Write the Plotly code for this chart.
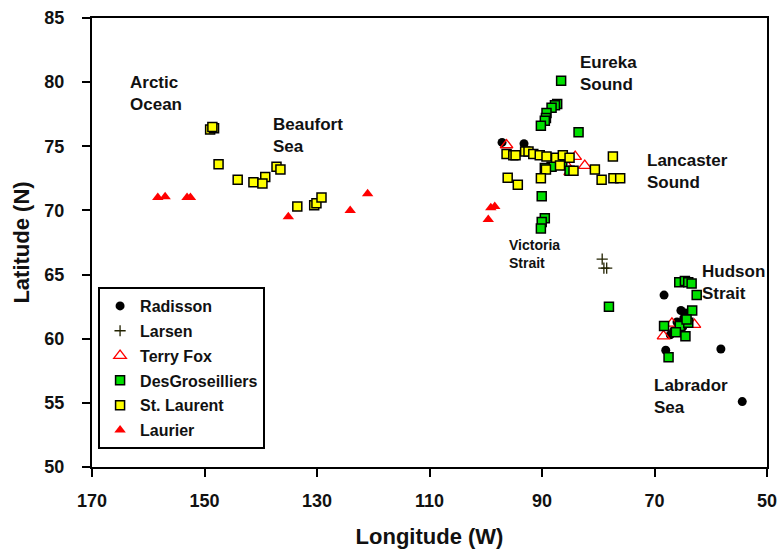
import plotly.graph_objects as go

# ---- data (longitude W, latitude N) ----
radisson_lon = [97.1, 93.2, 68.3, 65.3, 64.5, 66.0, 65.0, 66.6, 67.2, 64.8, 68.0, 58.2, 54.4]
radisson_lat = [75.3, 75.2, 63.4, 62.2, 62.0, 61.3, 60.9, 60.6, 60.3, 61.6, 59.1, 59.2, 55.1]

larsen_lon = [79.3, 79.0, 78.5]
larsen_lat = [66.2, 65.5, 65.5]

terryfox_lon = [96.3, 84.1, 82.4, 85.0, 86.8, 85.4, 68.4, 62.9, 66.9]
terryfox_lat = [75.1, 74.2, 73.5, 73.0, 73.6, 73.4, 60.2, 61.1, 61.2]

desg_lon = [86.6, 87.3, 87.7, 88.3, 89.2, 89.3, 89.5, 90.2, 83.5, 90.05, 89.5, 90.05, 90.2,
            88.3, 86.4, 85.1, 89.5, 78.1,
            65.6, 64.6, 64.0, 63.4, 62.5, 63.3, 68.3, 65.5, 64.0, 66.2, 64.5, 67.5, 64.3]
desg_lat = [80.1, 78.3, 78.2, 78.0, 77.6, 77.2, 77.0, 76.6, 76.1, 71.1, 69.4, 69.1, 68.6,
            73.4, 73.6, 73.1, 73.3, 62.5,
            64.4, 64.5, 64.4, 64.3, 63.4, 62.2, 61.0, 61.0, 61.25, 60.5, 60.2, 58.55, 61.5]

stl_lon = [149.0, 148.3, 148.6, 147.5, 144.1, 141.3, 139.2, 139.7, 137.2, 136.5,
           133.5, 130.5, 130.1, 129.2,
           96.3, 95.1, 94.7, 93.0, 92.4, 91.55, 90.4, 89.2, 87.5, 86.3, 85.1,
           89.3, 84.4, 80.6, 77.4, 79.4, 77.3, 76.1, 96.1, 94.3, 90.2, 86.8]
stl_lat = [76.3, 76.4, 76.5, 73.6, 72.4, 72.2, 72.6, 72.1, 73.4, 73.2,
           70.3, 70.4, 70.55, 71.0,
           74.4, 74.3, 74.3, 74.6, 74.6, 74.4, 74.3, 74.2, 74.1, 74.3, 74.1,
           73.2, 73.1, 73.2, 74.2, 72.4, 72.5, 72.5, 72.55, 72.0, 72.5, 73.5]

laurier_lon = [158.3, 157.0, 153.1, 152.5, 135.1, 124.1, 121.0, 99.1, 98.4, 99.55]
laurier_lat = [71.0, 71.07, 71.0, 71.0, 69.5, 70.0, 71.3, 70.2, 70.3, 69.3]

x_ticks = [170, 150, 130, 110, 90, 70, 50]
y_ticks = [50, 55, 60, 65, 70, 75, 80, 85]

region_labels = ["Arctic<br>Ocean", "Beaufort<br>Sea", "Eureka<br>Sound", "Lancaster<br>Sound",
                 "Victoria<br>Strait", "Hudson<br>Strait", "Labrador<br>Sea"]
label_lon = [163.6, 138.2, 83.6, 71.7, 96.2, 61.9, 70.4]
label_lat = [79.15, 75.84, 80.7, 73.07, 66.6, 64.4, 55.5]
label_size = [17, 17, 17, 17, 14, 17, 17]

FONT = "Liberation Sans"
TXT = "#111111"

fig = go.Figure()

fig.add_trace(go.Scatter(x=radisson_lon, y=radisson_lat, mode="markers", name="Radisson",
                         legendgroup="a",
                         marker=dict(symbol="circle", size=9, color="black")))
fig.add_trace(go.Scatter(x=larsen_lon, y=larsen_lat, mode="markers", name="Larsen",
                         legendgroup="b",
                         marker=dict(symbol="cross-thin", size=8, color="black",
                                     line=dict(color="#222200", width=1.3))))
fig.add_trace(go.Scatter(x=terryfox_lon, y=terryfox_lat, mode="markers", name="Terry Fox",
                         legendgroup="c",
                         marker=dict(symbol="triangle-up-open", size=11, color="red",
                                     line=dict(color="red", width=1.3))))
fig.add_trace(go.Scatter(x=desg_lon, y=desg_lat, mode="markers", name="DesGroseilliers",
                         legendgroup="d",
                         marker=dict(symbol="square", size=9, color="#00e000",
                                     line=dict(color="black", width=1.5))))
fig.add_trace(go.Scatter(x=stl_lon, y=stl_lat, mode="markers", name="St. Laurent",
                         legendgroup="e",
                         marker=dict(symbol="square", size=9, color="#ffff00",
                                     line=dict(color="black", width=1.5))))
fig.add_trace(go.Scatter(x=laurier_lon, y=laurier_lat, mode="markers", name="Laurier",
                         legendgroup="f",
                         marker=dict(symbol="triangle-up", size=10, color="red")))

for txt, lx, ly, fs in zip(region_labels, label_lon, label_lat, label_size):
    fig.add_annotation(x=lx, y=ly, text=txt, showarrow=False, xanchor="left", yanchor="middle",
                       align="left", font=dict(family=FONT, size=fs, color=TXT, weight="bold"))

axis_common = dict(showgrid=False, zeroline=False, showline=True, linecolor="black", linewidth=2,
                   mirror=True, ticks="outside", ticklen=8, tickwidth=2, tickcolor="black",
                   automargin=False,
                   tickfont=dict(family=FONT, size=18, color=TXT, weight="bold"))

fig.update_xaxes(range=[170, 50], tickvals=x_ticks, ticktext=[str(v) for v in x_ticks],
                 ticklabelstandoff=8,
                 title=dict(text="Longitude (W)", font=dict(family=FONT, size=22, color=TXT, weight="bold"),
                            standoff=19),
                 **axis_common)
fig.update_yaxes(range=[50, 85], tickvals=y_ticks, ticktext=[str(v) for v in y_ticks],
                 ticklabelstandoff=14,
                 title=dict(text="Latitude (N)", font=dict(family=FONT, size=22, color=TXT, weight="bold"),
                            standoff=9),
                 **axis_common)

fig.update_layout(
    width=780, height=552,
    margin=dict(l=92, r=13, t=18, b=85),
    paper_bgcolor="white", plot_bgcolor="white",
    showlegend=True,
    legend=dict(x=0.009, y=0.04, xanchor="left", yanchor="bottom",
                bgcolor="white", bordercolor="black", borderwidth=2,
                font=dict(family=FONT, size=16, color=TXT, weight="bold"),
                itemwidth=30, tracegroupgap=1),
    font=dict(family=FONT),
)

# remove the browser's default 8px body margin so the figure fills the window
fig.write_html("out.html",
               config={"displayModeBar": False},
               post_script="document.body.style.margin='0';document.body.style.overflow='hidden';")
